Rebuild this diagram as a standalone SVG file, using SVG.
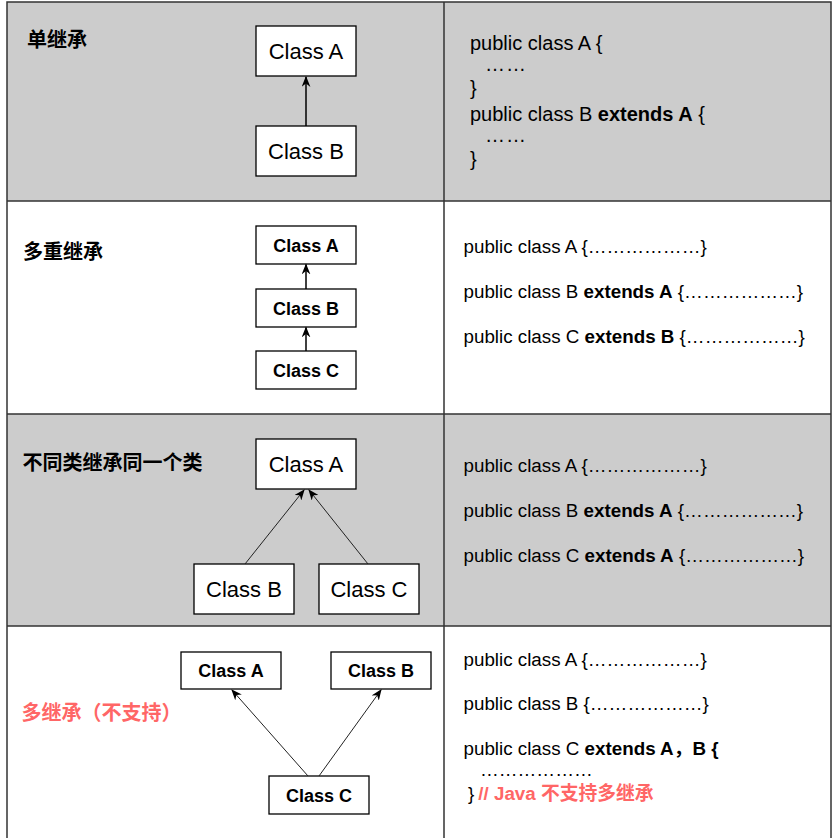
<svg xmlns="http://www.w3.org/2000/svg" width="838" height="838" viewBox="0 0 838 838">
<style>
text { font-family: "Liberation Sans", Arial, "Noto Sans CJK SC", sans-serif; fill: #000; }
.title { font-size: 20px; font-weight: bold; }
.red { fill: #FF6666; }
.node rect { fill: #fff; stroke: #000; stroke-width: 1.3; }
.lbl { font-size: 22px; text-anchor: middle; }
.lblb { font-size: 18px; font-weight: bold; text-anchor: middle; }
.code1 { font-size: 20px; }
.code { font-size: 18.8px; }
.b { font-weight: bold; }
.grid { stroke: #333; stroke-width: 1.5; fill: none; }
.edge { fill: none; stroke: #000; stroke-width: 1.5; marker-end: url(#arr); }
.edge2 { fill: none; stroke: #222; stroke-width: 1; marker-end: url(#arr); }
</style>
<defs>
<marker id="arr" viewBox="0 0 10 8" refX="9" refY="4" markerWidth="11" markerHeight="9" markerUnits="userSpaceOnUse" orient="auto">
<path d="M0,0 L10,4 L0,8 L3,4 Z" fill="#000"/>
</marker>
</defs>
<rect width="838" height="838" fill="#fff"/>
<g id="table">
<rect x="7" y="2" width="824" height="199" fill="#cccccc"/>
<rect x="7" y="414" width="824" height="212" fill="#cccccc"/>
<path class="grid" d="M7,840 V2 H831 V840 M444,2 V840 M7,201 H831 M7,414 H831 M7,626 H831"/>
</g>
<g id="row1">
<text class="title" x="27" y="47">单继承</text>
<g id="r1-classA" class="node"><rect x="256" y="26" width="100" height="50"/><text class="lbl" x="306" y="59">Class A</text></g>
<g id="r1-classB" class="node"><rect x="256" y="126" width="100" height="50"/><text class="lbl" x="306" y="159">Class B</text></g>
<g id="r1-code" class="code1">
<text x="470" y="50">public class A {</text>
<text x="485" y="71" letter-spacing="1">……</text>
<text x="470" y="95">}</text>
<text x="470" y="121">public class B <tspan class="b">extends A</tspan> {</text>
<text x="485" y="142" letter-spacing="1">……</text>
<text x="470" y="166">}</text>
</g>
</g>
<g id="row2">
<text class="title" x="23" y="259">多重继承</text>
<g id="r2-classA" class="node"><rect x="256" y="226" width="100" height="38"/><text class="lblb" x="306" y="251.5">Class A</text></g>
<g id="r2-classB" class="node"><rect x="256" y="289" width="100" height="38"/><text class="lblb" x="306" y="314.5">Class B</text></g>
<g id="r2-classC" class="node"><rect x="256" y="351" width="100" height="38"/><text class="lblb" x="306" y="376.5">Class C</text></g>
<g id="r2-code" class="code">
<text x="463.5" y="253">public class A {………………}</text>
<text x="463.5" y="298">public class B <tspan class="b">extends A</tspan> {………………}</text>
<text x="463.5" y="343">public class C <tspan class="b">extends B</tspan> {………………}</text>
</g>
</g>
<g id="row3">
<text class="title" x="22.5" y="470">不同类继承同一个类</text>
<g id="r3-classA" class="node"><rect x="256" y="439" width="100" height="50"/><text class="lbl" x="306" y="472">Class A</text></g>
<g id="r3-classB" class="node"><rect x="194" y="564" width="100" height="50"/><text class="lbl" x="244" y="597">Class B</text></g>
<g id="r3-classC" class="node"><rect x="319" y="564" width="100" height="50"/><text class="lbl" x="369" y="597">Class C</text></g>
<g id="r3-code" class="code">
<text x="463.5" y="472">public class A {………………}</text>
<text x="463.5" y="517">public class B <tspan class="b">extends A</tspan> {………………}</text>
<text x="463.5" y="562">public class C <tspan class="b">extends A</tspan> {………………}</text>
</g>
</g>
<g id="row4">
<text class="title red" x="21.5" y="720">多继承（不支持）</text>
<g id="r4-classA" class="node"><rect x="181" y="652" width="100" height="37"/><text class="lblb" x="231" y="677">Class A</text></g>
<g id="r4-classB" class="node"><rect x="331" y="652" width="100" height="37"/><text class="lblb" x="381" y="677">Class B</text></g>
<g id="r4-classC" class="node"><rect x="269" y="776" width="100" height="38"/><text class="lblb" x="319" y="801.5">Class C</text></g>
<g id="r4-code" class="code">
<text x="463.5" y="666">public class A {………………}</text>
<text x="463.5" y="710">public class B {………………}</text>
<text x="463.5" y="755">public class C <tspan class="b">extends A，B {</tspan></text>
<text x="480" y="776">………………</text>
<text x="468" y="800">}<tspan class="b red" dx="4">// Java 不支持多继承</tspan></text>
</g>
</g>
<g id="connectors">
<path class="edge" d="M306,126 V77"/>
<path class="edge" d="M306,289 V264.5"/>
<path class="edge" d="M306,351 V327.5"/>
<path class="edge2" d="M245,564 L304,490"/>
<path class="edge2" d="M368,564 L309,490"/>
<path class="edge2" d="M308,776 L232,690"/>
<path class="edge2" d="M319,776 L381,690"/>
</g>
</svg>
